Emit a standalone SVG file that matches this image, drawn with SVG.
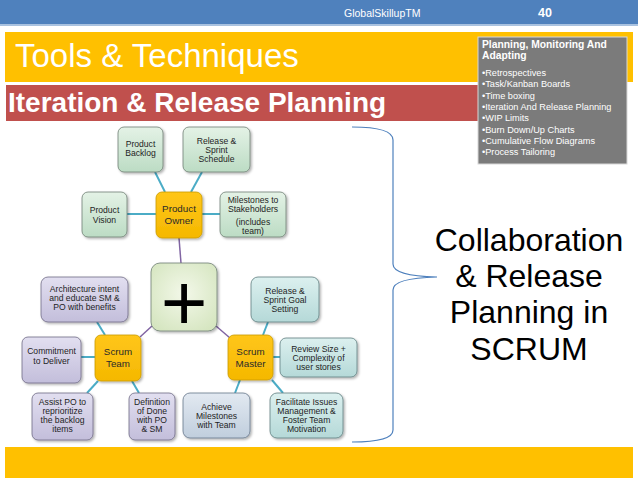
<svg xmlns="http://www.w3.org/2000/svg" width="638" height="479" viewBox="0 0 638 479">
<defs>
<linearGradient id="gGreen" x1="0" y1="0" x2="0" y2="1"><stop offset="0" stop-color="#e4f2e6"/><stop offset="1" stop-color="#bcdcc4"/></linearGradient>
<linearGradient id="gLav" x1="0" y1="0" x2="0" y2="1"><stop offset="0" stop-color="#e2dff0"/><stop offset="1" stop-color="#c3bedb"/></linearGradient>
<linearGradient id="gTeal" x1="0" y1="0" x2="0" y2="1"><stop offset="0" stop-color="#dcf0ef"/><stop offset="1" stop-color="#b5d9d8"/></linearGradient>
<linearGradient id="gBlue" x1="0" y1="0" x2="0" y2="1"><stop offset="0" stop-color="#e2e9f1"/><stop offset="1" stop-color="#c0cedd"/></linearGradient>
<linearGradient id="gOrange" x1="0" y1="0" x2="0" y2="1"><stop offset="0" stop-color="#ffc61a"/><stop offset="1" stop-color="#f5b800"/></linearGradient>
<radialGradient id="gPlus" cx="0.5" cy="0.45" r="0.7"><stop offset="0" stop-color="#f3f8e9"/><stop offset="1" stop-color="#d3e4bd"/></radialGradient>
<filter id="sh" x="-20%" y="-20%" width="150%" height="150%"><feDropShadow dx="1.5" dy="1.5" stdDeviation="1.2" flood-color="#000" flood-opacity="0.3"/></filter>
</defs>
<style>
.n{stroke:#6f7f74;stroke-width:0.8;filter:url(#sh)}
.green{fill:url(#gGreen)}
.lav{fill:url(#gLav);stroke:#6e6a85}
.teal{fill:url(#gTeal);stroke:#5f7f80}
.blue{fill:url(#gBlue);stroke:#66768a}
.org{fill:url(#gOrange);stroke:#c99a00}
.t{font-family:"Liberation Sans",Arial,sans-serif;font-size:8.6px;fill:#1e1e1e;text-anchor:middle}
.to{font-family:"Liberation Sans",Arial,sans-serif;font-size:9.8px;fill:#2a2a2a;text-anchor:middle}
.c1{stroke:#4bacc6;stroke-width:2;fill:none}
.c2{stroke:#8064a2;stroke-width:1.5;fill:none}
.gw{font-family:"Liberation Sans",Arial,sans-serif;fill:#ffffff}
</style>
<rect x="0" y="0" width="638" height="479" fill="#ffffff"/>
<rect x="0" y="0" width="638" height="24" fill="#4f81bd"/>
<rect x="0" y="24" width="638" height="2" fill="#a9c2e0"/>
<text class="gw" x="344" y="17" font-size="10.5">GlobalSkillupTM</text>
<text class="gw" x="538" y="17" font-size="12.5" font-weight="bold">40</text>
<rect x="5" y="32" width="628" height="50" fill="#ffc000"/>
<text class="gw" x="15" y="67" font-size="33">Tools &amp; Techniques</text>
<rect x="6" y="85" width="474" height="36" fill="#c0504d"/>
<text class="gw" x="8" y="112" font-size="28" font-weight="bold">Iteration &amp; Release Planning</text>
<g id="infobox">
<rect x="478" y="37" width="149" height="127" fill="#7b7b7b" stroke="#d8d8d8" stroke-width="1"/>
<text class="gw" x="482" y="48" font-size="10.3" font-weight="bold">Planning, Monitoring And</text>
<text class="gw" x="482" y="59" font-size="10.3" font-weight="bold">Adapting</text>
<g class="gw" font-size="9.2">
<text x="482" y="76">•Retrospectives</text>
<text x="482" y="87.3">•Task/Kanban Boards</text>
<text x="482" y="98.6">•Time boxing</text>
<text x="482" y="110">•Iteration And Release Planning</text>
<text x="482" y="121.3">•WIP Limits</text>
<text x="482" y="132.6">•Burn Down/Up Charts</text>
<text x="482" y="144">•Cumulative Flow Diagrams</text>
<text x="482" y="155.3">•Process Tailoring</text>
</g>
</g>
<rect x="5" y="447" width="628" height="31" fill="#ffc000"/>
<g id="connectors">
<line class="c1" x1="155" y1="172" x2="165" y2="192"/>
<line class="c1" x1="202" y1="172" x2="191" y2="192"/>
<line class="c1" x1="127" y1="214" x2="156" y2="214"/>
<line class="c1" x1="202" y1="214" x2="220" y2="214"/>
<line class="c2" x1="179" y1="238" x2="181" y2="263"/>
<line class="c2" x1="140" y1="337" x2="152" y2="326"/>
<line class="c2" x1="216" y1="326" x2="230" y2="338"/>
<line class="c1" x1="97" y1="322" x2="105" y2="335"/>
<line class="c1" x1="81" y1="357" x2="95" y2="357"/>
<line class="c1" x1="87" y1="393" x2="98" y2="381"/>
<line class="c1" x1="132" y1="381" x2="139" y2="393"/>
<line class="c1" x1="263" y1="335" x2="268" y2="322"/>
<line class="c1" x1="273" y1="357" x2="280" y2="357"/>
<line class="c1" x1="272" y1="380" x2="283" y2="393"/>
<line class="c1" x1="240" y1="380" x2="235" y2="393"/>
<path d="M352,127 Q393,127 393,140 L393,264 Q393,276 437,277 Q393,278 393,290 L393,430 Q393,442 352,442" fill="none" stroke="#4f81bd" stroke-width="1.2"/>
</g>
<g id="plus"><rect class="n" x="151" y="263" width="66" height="68" rx="9" fill="url(#gPlus)" stroke="#c9cfbf"/><text x="184" y="330" font-family="Liberation Sans,Arial,sans-serif" font-size="80" text-anchor="middle" fill="#000">+</text></g>
<g id="productOwner"><rect class="n org" x="156" y="192" width="46" height="46" rx="6"/><text class="to" x="179" y="212">Product</text><text class="to" x="179" y="224">Owner</text></g>
<g id="productBacklog"><rect class="n green" x="118" y="127" width="45" height="45" rx="6"/><text class="t" x="140.5" y="147">Product</text><text class="t" x="140.5" y="156">Backlog</text></g>
<g id="releaseSchedule"><rect class="n green" x="183" y="127" width="67" height="45" rx="6"/><text class="t" x="216.5" y="144">Release &amp;</text><text class="t" x="216.5" y="153">Sprint</text><text class="t" x="216.5" y="162">Schedule</text></g>
<g id="productVision"><rect class="n green" x="82" y="192" width="45" height="45" rx="6"/><text class="t" x="104.5" y="213">Product</text><text class="t" x="104.5" y="223">Vision</text></g>
<g id="milestones"><rect class="n green" x="220" y="192" width="66" height="45" rx="6"/><text class="t" x="253" y="203">Milestones to</text><text class="t" x="253" y="212">Stakeholders</text><text class="t" x="253" y="225">(includes</text><text class="t" x="253" y="234">team)</text></g>
<g id="scrumTeam"><rect class="n org" x="95" y="335" width="46" height="46" rx="6"/><text class="to" x="118" y="355">Scrum</text><text class="to" x="118" y="367">Team</text></g>
<g id="architecture"><rect class="n lav" x="41" y="277" width="87" height="45" rx="7"/><text class="t" x="84.5" y="292">Architecture intent</text><text class="t" x="84.5" y="301">and educate SM &amp;</text><text class="t" x="84.5" y="310">PO with benefits</text></g>
<g id="commitment"><rect class="n lav" x="22" y="337" width="59" height="46" rx="6"/><text class="t" x="51.5" y="354">Commitment</text><text class="t" x="51.5" y="364">to Deliver</text></g>
<g id="assistPO"><rect class="n lav" x="32" y="393" width="61" height="47" rx="6"/><text class="t" x="62.5" y="405">Assist PO to</text><text class="t" x="62.5" y="414">reprioritize</text><text class="t" x="62.5" y="423">the backlog</text><text class="t" x="62.5" y="432">items</text></g>
<g id="definitionDone"><rect class="n lav" x="129" y="393" width="46" height="47" rx="6"/><text class="t" x="152" y="405">Definition</text><text class="t" x="152" y="414">of Done</text><text class="t" x="152" y="423">with PO</text><text class="t" x="152" y="432">&amp; SM</text></g>
<g id="scrumMaster"><rect class="n org" x="228" y="335" width="45" height="45" rx="6"/><text class="to" x="250.5" y="355">Scrum</text><text class="to" x="250.5" y="367">Master</text></g>
<g id="releaseGoal"><rect class="n teal" x="251" y="277" width="68" height="45" rx="7"/><text class="t" x="285" y="294">Release &amp;</text><text class="t" x="285" y="303">Sprint Goal</text><text class="t" x="285" y="312">Setting</text></g>
<g id="reviewSize"><rect class="n teal" x="280" y="338" width="77" height="39" rx="6"/><text class="t" x="318.5" y="352">Review Size +</text><text class="t" x="318.5" y="361">Complexity of</text><text class="t" x="318.5" y="370">user stories</text></g>
<g id="facilitate"><rect class="n teal" x="270" y="393" width="73" height="45" rx="7"/><text class="t" x="306.5" y="405">Facilitate Issues</text><text class="t" x="306.5" y="414">Management &amp;</text><text class="t" x="306.5" y="423">Foster Team</text><text class="t" x="306.5" y="432">Motivation</text></g>
<g id="achieve"><rect class="n blue" x="183" y="393" width="67" height="45" rx="7"/><text class="t" x="216.5" y="410">Achieve</text><text class="t" x="216.5" y="419">Milestones</text><text class="t" x="216.5" y="428">with Team</text></g>
<g id="caption" font-family="Liberation Sans,Arial,sans-serif" font-size="32" fill="#000" text-anchor="middle">
<text x="529" y="251">Collaboration</text>
<text x="529" y="287">&amp; Release</text>
<text x="529" y="323">Planning in</text>
<text x="529" y="360">SCRUM</text>
</g>
</svg>
